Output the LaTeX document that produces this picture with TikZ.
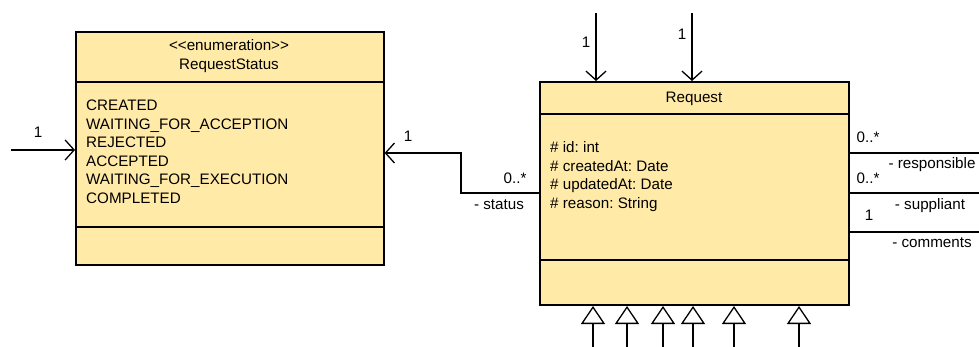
\documentclass[tikz,border=0pt]{standalone}
\usepackage{fontspec}
\setmainfont{Liberation Sans}
\frenchspacing
\usetikzlibrary{arrows.meta}
\definecolor{classfill}{RGB}{255,234,167}
\tikzset{
  classbox/.style={draw=black, line width=1.6pt, fill=classfill, anchor=north west, inner sep=0pt},
  sepline/.style={line width=1.6pt},
  conn/.style={line width=1.3pt},
  assoc/.style={conn, -{Straight Barb[length=9pt,width=20pt,line width=1.3pt]}},
  inherit/.style={conn, -{Triangle[open,length=18pt,width=24pt,line width=1.3pt,fill=white]}},
  txt/.style={font=\fontsize{15.2}{18}\selectfont\frenchspacing, inner sep=0pt},
  lbl/.style={txt, anchor=base}
}
\begin{document}
\begin{tikzpicture}[x=1pt,y=-1pt]
\useasboundingbox (0,0) rectangle (979,347);

% enumeration RequestStatus
\node[classbox, minimum width=308pt, minimum height=233pt] (rs) at (75,31) {};
\draw[sepline] (75,82) -- (383,82);
\draw[sepline] (75,227) -- (383,227);
\node[lbl] (rsst) at (229,50.5) {<{}<enumeration>{}>};
\node[lbl] (rsname) at (229,69.5) {RequestStatus};
\foreach \t [count=\i from 0] in {CREATED,WAITING\_FOR\_ACCEPTION,REJECTED,ACCEPTED,WAITING\_FOR\_EXECUTION,COMPLETED}
  \node[txt, anchor=base west] (rsv\i) at (86,110.5+18.6*\i) {\t};

% class Request
\node[classbox, minimum width=309pt, minimum height=223pt] (req) at (539,81) {};
\draw[sepline] (539,114) -- (848,114);
\draw[sepline] (539,260) -- (848,260);
\node[lbl] (reqname) at (694,102.5) {Request};
\foreach \t [count=\i from 0] in {\# id: int,\# createdAt: Date,\# updatedAt: Date,\# reason: String}
  \node[txt, anchor=base west] (reqa\i) at (550,152.5+18.7*\i) {\t};

% incoming association into RequestStatus
\coordinate (inL) at (11,150);
\draw[assoc] (inL) -- (rs.west |- inL);
\node[lbl] (inLm) at (38,138) {1};

% Request -> RequestStatus (status)
\coordinate (stA) at (req.west |- 0,193);
\coordinate (stB) at (rs.east |- 0,153);
\draw[assoc] (stA) -- (461,193) -- (461,153) -- (stB);
\node[lbl] (stm1) at (515,184) {0..*};
\node[lbl] (stm2) at (408,142) {1};
\node[lbl] (strole) at (499,209.5) {- status};

% incoming associations from above
\coordinate (topA) at (596,13);
\coordinate (topB) at (692,13);
\draw[assoc] (topA) -- (topA |- req.north);
\draw[assoc] (topB) -- (topB |- req.north);
\node[lbl] (topAm) at (586,48) {1};
\node[lbl] (topBm) at (682,40) {1};

% outgoing associations to the right
\coordinate (rR) at (979,153);
\coordinate (rS) at (979,193);
\coordinate (rC) at (979,232);
\draw[conn] (req.east |- rR) -- (rR);
\draw[conn] (req.east |- rS) -- (rS);
\draw[conn] (req.east |- rC) -- (rC);
\node[lbl] (rRm) at (868,143) {0..*};
\node[lbl] (rRr) at (932,168.5) {- responsible};
\node[lbl] (rSm) at (868,184) {0..*};
\node[lbl] (rSr) at (930,209.5) {- suppliant};
\node[lbl] (rCm) at (869,221) {1};
\node[lbl] (rCr) at (932,247.5) {- comments};

% subclasses below
\foreach \x [count=\i] in {593,627,663,693,734,799} {
  \coordinate (sub\i) at (\x,347);
  \draw[inherit] (sub\i) -- (\x,306);
}
\end{tikzpicture}
\end{document}
